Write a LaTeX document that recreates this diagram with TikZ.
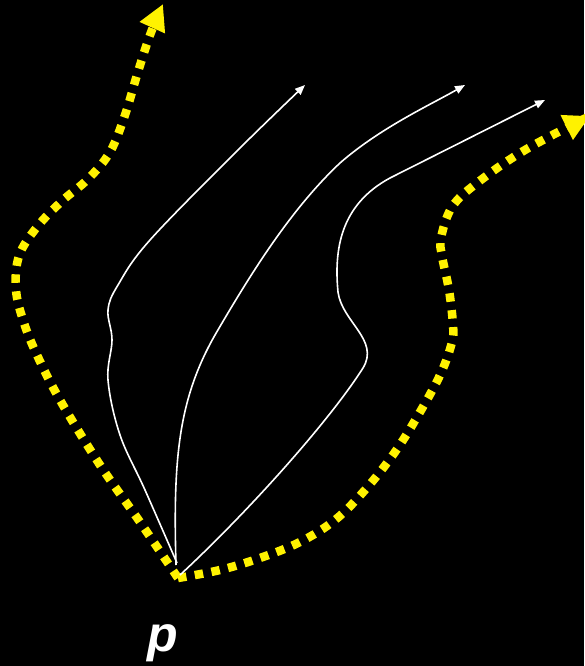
\documentclass[tikz,border=0pt]{standalone}
\usepackage{fontspec}
\setmainfont{Liberation Sans}
\usetikzlibrary{arrows.meta}
\begin{document}
\begin{tikzpicture}[x=1pt,y=-1pt,
  yellowpath/.style={draw=yellow,line width=8.5pt,dash pattern=on 8.5pt off 8.5pt,line cap=butt,
    -{Triangle[length=26pt,width=26pt]}},
  whitepath/.style={draw=white,line width=1.6pt,-{Triangle[length=10pt,width=8pt]}},
  lbl/.style={text=white,font=\fontsize{50}{60}\selectfont\bfseries\itshape,inner sep=0pt}]
\fill[black] (0,0) rectangle (584,666);
\useasboundingbox (0,0) rectangle (584,666);
\coordinate (p) at (178,577);
\coordinate (e1) at (305,85);
\coordinate (e2) at (465,85);
\coordinate (e3) at (545,100);
% yellow left
\draw[yellowpath] plot[smooth,tension=0.6] coordinates {(178,578) (140,522) (100,465) (60,400) (37,355) (24,323) (16,290) (19,256) (37,227) (62,201) (88,179) (110,152) (125,115) (137,75) (150,35) (163,4)};
% yellow right
\draw[yellowpath] plot[smooth,tension=0.6] coordinates {(178,578) (220,570) (260,558) (300,542) (335,520) (365,490) (395,452) (420,412) (441,373) (452,342) (453,325) (449,290) (442,256) (441,238) (452,207) (477,183) (525,150) (590,116)};
% white curves
\draw[whitepath] plot[smooth,tension=0.6] coordinates {(177,563) (145,490) (120,435) (108,380) (112,340) (108,310) (118,285) (150,240) (238,150) (e1)};
\draw[whitepath] (176,565) .. controls (173,460) and (178,400) .. (215,335)
  .. controls (250,275) and (290,210) .. (340,163)
  .. controls (380,128) and (430,105) .. (e2);
\draw[whitepath] (180,575) .. controls (250,510) and (330,420) .. (363,368)
  .. controls (380,340) and (342,322) .. (338,292)
  .. controls (334,250) and (340,205) .. (390,178) -- (e3);
\node[lbl,anchor=base west] (plabel) at (147,651) {p};
\end{tikzpicture}
\end{document}
